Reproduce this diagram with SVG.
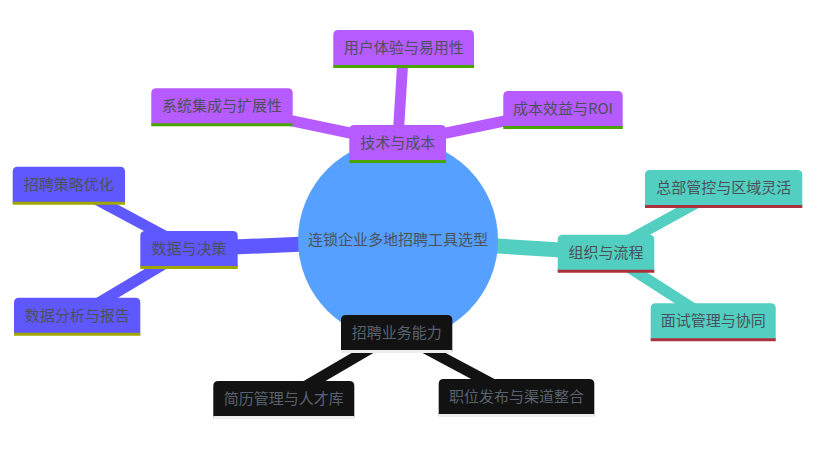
<svg xmlns="http://www.w3.org/2000/svg" width="836" height="455" viewBox="0 0 836 455">
<style>
text{font-family:"Noto Sans CJK SC","Liberation Sans",sans-serif;font-size:15px;text-anchor:middle}
.e{fill:none;stroke-linecap:butt}
.d1{stroke-width:15}
.d2{stroke-width:11}
.s0{fill:#b65bff}.s0e{stroke:#b65bff}.s0l{stroke:#49a400}
.s1{fill:#5f58ff}.s1e{stroke:#5f58ff}.s1l{stroke:#a0a800}
.s2{fill:#52cfc1}.s2e{stroke:#52cfc1}.s2l{stroke:#ad303e}
.s3{fill:#121212}.s3e{stroke:#121212}.s3l{stroke:#ededed}
.nl{stroke-width:3}
.t{fill:#4b505a}
.tk{fill:#5a6270}
</style>
<rect width="836" height="455" fill="#ffffff"/>
<g id="connectors">
<line class="e d1 s0e" x1="398" y1="240" x2="397.65" y2="143"/>
<line class="e d1 s1e" x1="398" y1="240" x2="189" y2="249"/>
<line class="e d1 s2e" x1="398" y1="240" x2="606" y2="252.7"/>
<line class="e d1 s3e" x1="398" y1="240" x2="396.65" y2="333"/>
<line class="e d2 s0e" x1="397.65" y1="143" x2="403.65" y2="48"/>
<line class="e d2 s0e" x1="397.65" y1="143" x2="222" y2="106.3"/>
<line class="e d2 s0e" x1="397.65" y1="143" x2="563" y2="109"/>
<line class="e d2 s1e" x1="189" y1="249" x2="68.85" y2="184.7"/>
<line class="e d2 s1e" x1="189" y1="249" x2="77.15" y2="315.7"/>
<line class="e d2 s2e" x1="606" y1="252.7" x2="723.65" y2="188"/>
<line class="e d2 s2e" x1="606" y1="252.7" x2="713.2" y2="321.3"/>
<line class="e d2 s3e" x1="396.65" y1="333" x2="283.8" y2="399"/>
<line class="e d2 s3e" x1="396.65" y1="333" x2="516.5" y2="397"/>
</g>
<g id="root">
<circle cx="398" cy="240" r="100" fill="#56a0ff"/>
<text class="t" x="398" y="245">连锁企业多地招聘工具选型</text>
</g>
<g id="n-tech" transform="translate(349.3,125)">
<path class="s0" d="M0,36.5 V5 Q0,0 5,0 H91.7 Q96.7,0 96.7,5 V36.5 Z"/>
<line class="s0l nl" x1="0" y1="36.5" x2="96.7" y2="36.5"/>
<text class="t" x="48.35" y="23">技术与成本</text>
</g>
<g id="n-ux" transform="translate(333.3,30)">
<path class="s0" d="M0,36.5 V5 Q0,0 5,0 H135.7 Q140.7,0 140.7,5 V36.5 Z"/>
<line class="s0l nl" x1="0" y1="36.5" x2="140.7" y2="36.5"/>
<text class="t" x="70.35" y="23">用户体验与易用性</text>
</g>
<g id="n-integ" transform="translate(151.3,88.3)">
<path class="s0" d="M0,36.5 V5 Q0,0 5,0 H136.4 Q141.4,0 141.4,5 V36.5 Z"/>
<line class="s0l nl" x1="0" y1="36.5" x2="141.4" y2="36.5"/>
<text class="t" x="70.7" y="23">系统集成与扩展性</text>
</g>
<g id="n-roi" transform="translate(503.3,91)">
<path class="s0" d="M0,36.5 V5 Q0,0 5,0 H114.4 Q119.4,0 119.4,5 V36.5 Z"/>
<line class="s0l nl" x1="0" y1="36.5" x2="119.4" y2="36.5"/>
<text class="t" x="59.7" y="23">成本效益与ROI</text>
</g>
<g id="n-data" transform="translate(140.3,231)">
<path class="s1" d="M0,36.5 V5 Q0,0 5,0 H92.4 Q97.4,0 97.4,5 V36.5 Z"/>
<line class="s1l nl" x1="0" y1="36.5" x2="97.4" y2="36.5"/>
<text class="t" x="48.7" y="23">数据与决策</text>
</g>
<g id="n-strategy" transform="translate(12.7,166.7)">
<path class="s1" d="M0,36.5 V5 Q0,0 5,0 H107.3 Q112.3,0 112.3,5 V36.5 Z"/>
<line class="s1l nl" x1="0" y1="36.5" x2="112.3" y2="36.5"/>
<text class="t" x="56.15" y="23">招聘策略优化</text>
</g>
<g id="n-report" transform="translate(14,297.7)">
<path class="s1" d="M0,36.5 V5 Q0,0 5,0 H121.3 Q126.3,0 126.3,5 V36.5 Z"/>
<line class="s1l nl" x1="0" y1="36.5" x2="126.3" y2="36.5"/>
<text class="t" x="63.15" y="23">数据分析与报告</text>
</g>
<g id="n-org" transform="translate(557.7,234.7)">
<path class="s2" d="M0,36.5 V5 Q0,0 5,0 H91.6 Q96.6,0 96.6,5 V36.5 Z"/>
<line class="s2l nl" x1="0" y1="36.5" x2="96.6" y2="36.5"/>
<text class="t" x="48.3" y="23">组织与流程</text>
</g>
<g id="n-hq" transform="translate(645,170)">
<path class="s2" d="M0,36.5 V5 Q0,0 5,0 H152.3 Q157.3,0 157.3,5 V36.5 Z"/>
<line class="s2l nl" x1="0" y1="36.5" x2="157.3" y2="36.5"/>
<text class="t" x="78.65" y="23">总部管控与区域灵活</text>
</g>
<g id="n-interview" transform="translate(650.7,303.3)">
<path class="s2" d="M0,36.5 V5 Q0,0 5,0 H120 Q125,0 125,5 V36.5 Z"/>
<line class="s2l nl" x1="0" y1="36.5" x2="125" y2="36.5"/>
<text class="t" x="62.5" y="23">面试管理与协同</text>
</g>
<g id="n-biz" transform="translate(341,315)">
<path class="s3" d="M0,36.5 V5 Q0,0 5,0 H106.3 Q111.3,0 111.3,5 V36.5 Z"/>
<line class="s3l nl" x1="0" y1="36.5" x2="111.3" y2="36.5"/>
<text class="tk" x="55.65" y="23">招聘业务能力</text>
</g>
<g id="n-resume" transform="translate(213.3,381)">
<path class="s3" d="M0,36.5 V5 Q0,0 5,0 H136 Q141,0 141,5 V36.5 Z"/>
<line class="s3l nl" x1="0" y1="36.5" x2="141" y2="36.5"/>
<text class="tk" x="70.5" y="23">简历管理与人才库</text>
</g>
<g id="n-post" transform="translate(438.7,379)">
<path class="s3" d="M0,36.5 V5 Q0,0 5,0 H150.6 Q155.6,0 155.6,5 V36.5 Z"/>
<line class="s3l nl" x1="0" y1="36.5" x2="155.6" y2="36.5"/>
<text class="tk" x="77.8" y="23">职位发布与渠道整合</text>
</g>
</svg>
